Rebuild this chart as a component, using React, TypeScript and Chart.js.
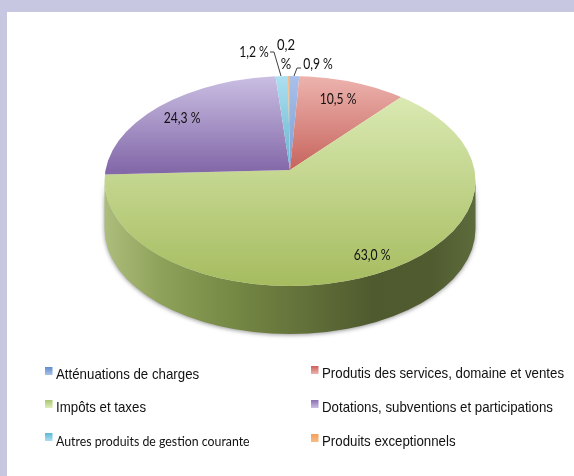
import React, { useEffect, useRef } from "react";
import { Chart, registerables } from "chart.js";

Chart.register(...registerables);

const categories = [
  "Atténuations de charges",
  "Produtis des services, domaine et ventes",
  "Impôts et taxes",
  "Dotations, subventions et participations",
  "Autres produits de gestion courante",
  "Produits exceptionnels",
];
const shares = [0.9, 10.5, 63.0, 24.3, 1.2, 0.2];
const topColors = ["#a9c0ea", "#edb3ae", "#dfeebb", "#cabfe3", "#addff1", "#f8bb80"];
const bottomColors = ["#7d9dd2", "#c6645c", "#a6bc5f", "#8469a9", "#66b4cd", "#ee9a4e"];
const legendColors = ["#5f8ecb", "#cc5f5b", "#a9c672", "#8a70b2", "#5cb8d4", "#f2a05c"];

const APEX = { x: 290, y: 170 };
const FACE = { x: 290, y: 181, rx: 185.5, ry: 105 };
const DEPTH = 48;
const SQUASH = 0.57;
const REACH = 212;
const FACE_TOP = 76;
const FACE_BOTTOM = 286;

const labelSpots = [
  { x: 318, y: 64 },
  { x: 338, y: 99 },
  { x: 372, y: 255 },
  { x: 182, y: 118 },
  { x: 254, y: 52 },
  { x: 286, y: 54 },
];
const leaders = [
  [[301, 68], [297, 68], [294, 76]],
  [[270, 52], [274, 52], [281, 76]],
];
const LABEL_SQUEEZE = 0.87;
const legendSpots = [
  { x: 45, y: 374, font: "15px 'Liberation Sans'", squeeze: 0.885 },
  { x: 311, y: 373, font: "15px 'Liberation Sans'", squeeze: 0.885 },
  { x: 45, y: 407, font: "15px 'Liberation Sans'", squeeze: 0.885 },
  { x: 311, y: 407, font: "15px 'Liberation Sans'", squeeze: 0.885 },
  { x: 45, y: 440, font: "14px Lato", squeeze: 0.88 },
  { x: 311, y: 441, font: "15px 'Liberation Sans'", squeeze: 0.885 },
];

const pct = (v: number) => `${v.toFixed(1).replace(".", ",")} %`;

const geometry = (chart: any) => {
  const a = chart.chartArea;
  const cx = (a.left + a.right) / 2;
  const cy = (a.top + a.bottom) / 2;
  const R = Math.min(a.right - a.left, a.bottom - a.top) / 2;
  return { cx, cy, R, k: REACH / R };
};

const faceGradient = (c: any) => {
  if (!c.chart.chartArea) return topColors[c.dataIndex];
  const { cy, k } = geometry(c.chart);
  const toLocal = (y: number) => cy + (y - APEX.y) / (SQUASH * k);
  const g = c.chart.ctx.createLinearGradient(0, toLocal(FACE_TOP), 0, toLocal(FACE_BOTTOM));
  const i = c.dataIndex;
  g.addColorStop(0, topColors[i]);
  g.addColorStop(i === 2 ? 1 : 0.45, bottomColors[i]);
  return g;
};

const squeezedText = (ctx: any, text: string, x: number, y: number, squeeze: number) => {
  ctx.save();
  ctx.translate(x, y);
  ctx.scale(squeeze, 1);
  ctx.fillText(text, 0, 0);
  ctx.restore();
};

const pie3d = {
  id: "pie3d",
  beforeDatasetsDraw(chart: any) {
    const ctx = chart.ctx;
    // side wall with its soft shadow
    ctx.save();
    const wall = ctx.createLinearGradient(FACE.x - FACE.rx, 0, FACE.x + FACE.rx, 0);
    wall.addColorStop(0, "#adbd7c");
    wall.addColorStop(0.15, "#8fa25a");
    wall.addColorStop(0.35, "#758844");
    wall.addColorStop(0.55, "#616f39");
    wall.addColorStop(0.72, "#4f5b2e");
    wall.addColorStop(0.88, "#505c30");
    wall.addColorStop(1, "#5d6b3c");
    ctx.beginPath();
    ctx.ellipse(FACE.x, FACE.y, FACE.rx, FACE.ry, 0, Math.PI, 0, true);
    ctx.lineTo(FACE.x + FACE.rx, FACE.y + DEPTH);
    ctx.ellipse(FACE.x, FACE.y + DEPTH, FACE.rx, FACE.ry, 0, 0, Math.PI, false);
    ctx.closePath();
    ctx.shadowColor = "rgba(60,60,60,0.55)";
    ctx.shadowBlur = 4;
    ctx.shadowOffsetY = 1;
    ctx.fillStyle = wall;
    ctx.fill();
    ctx.restore();
    // top face: the library's arcs, seen at an angle
    const { cx, cy, k } = geometry(chart);
    ctx.save();
    ctx.beginPath();
    ctx.ellipse(FACE.x, FACE.y, FACE.rx, FACE.ry, 0, 0, Math.PI * 2);
    ctx.clip();
    ctx.translate(APEX.x, APEX.y);
    ctx.scale(k, SQUASH * k);
    ctx.translate(-cx, -cy);
  },
  afterDatasetsDraw(chart: any) {
    const ctx = chart.ctx;
    ctx.restore();
    // leader lines
    ctx.save();
    ctx.strokeStyle = "#404040";
    ctx.lineWidth = 1;
    leaders.forEach((pts) => {
      ctx.beginPath();
      pts.forEach(([x, y], i) => (i ? ctx.lineTo(x, y) : ctx.moveTo(x, y)));
      ctx.stroke();
    });
    // data labels
    ctx.fillStyle = "#111";
    ctx.font = "15px Lato";
    ctx.textAlign = "center";
    ctx.textBaseline = "middle";
    shares.forEach((v, i) => {
      const s = labelSpots[i];
      if (v < 0.5) {
        const [num, unit] = pct(v).split(" ");
        squeezedText(ctx, num, s.x, s.y - 9, LABEL_SQUEEZE);
        squeezedText(ctx, unit, s.x, s.y + 10, LABEL_SQUEEZE);
      } else {
        squeezedText(ctx, pct(v), s.x, s.y, LABEL_SQUEEZE * 0.93);
      }
    });
    // legend
    ctx.textAlign = "left";
    categories.forEach((name, i) => {
      const s = legendSpots[i];
      const g = ctx.createLinearGradient(0, s.y - 7, 0, s.y + 1);
      g.addColorStop(0, legendColors[i]);
      g.addColorStop(1, topColors[i]);
      ctx.fillStyle = g;
      ctx.fillRect(s.x, s.y - 7, 7.5, 8);
      ctx.fillStyle = "#111";
      ctx.font = s.font;
      squeezedText(ctx, name, s.x + 11, s.y + 1, s.squeeze);
    });
    ctx.restore();
  },
};

export default function App() {
  const ref = useRef<HTMLCanvasElement>(null);
  useEffect(() => {
    document.body.style.margin = "0";
    const chart = new Chart(ref.current as HTMLCanvasElement, {
      type: "pie",
      data: {
        labels: categories,
        datasets: [{ data: shares, backgroundColor: faceGradient as any, borderWidth: 0 }],
      },
      options: {
        animation: false,
        responsive: false,
        plugins: { legend: { display: false }, tooltip: { enabled: false } },
      },
      plugins: [pie3d],
    });
    return () => chart.destroy();
  }, []);
  return (
    <div style={{ position: "relative", width: 574, height: 476, background: "#c7c7e1", overflow: "hidden" }}>
      <div style={{ position: "absolute", left: 7, top: 12, right: 0, bottom: 0, background: "#fff" }} />
      <canvas ref={ref} width={574} height={476} style={{ position: "absolute", left: 0, top: 0, width: 574, height: 476, filter: "blur(0.35px)" }} />
    </div>
  );
}
